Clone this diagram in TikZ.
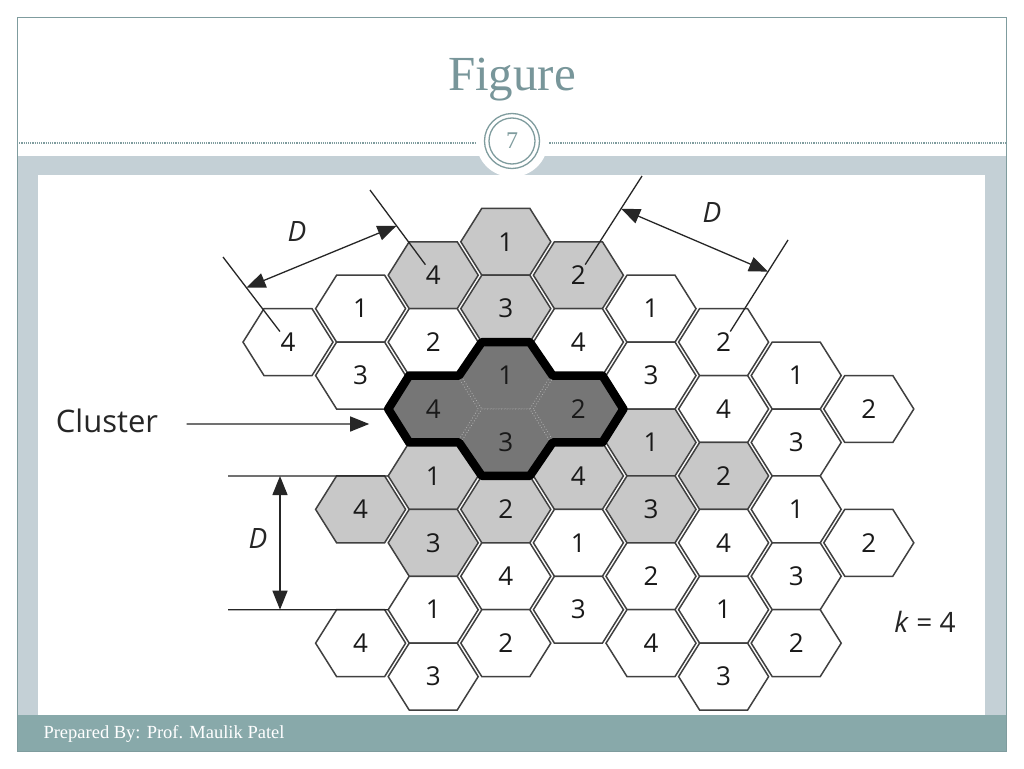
\documentclass[tikz,border=0pt]{standalone}
\usepackage{fontspec}
\setmainfont{Liberation Serif}
\setsansfont{Open Sans}
\usetikzlibrary{arrows.meta,calc}
\definecolor{slideteal}{HTML}{7F9C9E}
\definecolor{slideband}{HTML}{C4D0D6}
\definecolor{slidefoot}{HTML}{88A9AA}
\definecolor{titleteal}{HTML}{78969A}
\definecolor{cellgray}{HTML}{C8C8C8}
\definecolor{celldark}{HTML}{767676}
\tikzset{
  cellw/.style={draw=black!75, line width=1.5pt, fill=white},
  cellg/.style={draw=black!75, line width=1.5pt, fill=cellgray},
  celld/.style={draw=gray!60, line width=0.8pt, dotted, fill=celldark},
  num/.style={font=\sffamily\fontsize{26}{30}\selectfont, text=black!90, inner sep=1pt},
  dimline/.style={line width=1.3pt, black!85},
  dimlabel/.style={font=\sffamily\itshape\fontsize{28}{32}\selectfont, text=black!85},
}
\begin{document}
\begin{tikzpicture}[x=1pt, y=-1pt, >={Triangle[length=19pt,width=15pt]}]
\useasboundingbox (0,0) rectangle (1024,768);
\fill[white] (0,0) rectangle (1024,768);

% slide frame
\fill[slideband] (17,156) rectangle (1006,715);
\fill[white] (38,175) rectangle (985,715);
\fill[slidefoot] (17,715) rectangle (1006,751);
\draw[slideteal, line width=0.8pt] (17,17) rectangle (1006,751);
\draw[slideteal, densely dotted, line width=1.2pt] (17,143) -- (1006,143);
\fill[white] (512,141) circle (36);
\draw[slideteal, line width=1.3pt] (512,141) circle (27.5);
\draw[slideteal, line width=1.3pt] (512,141) circle (23);
\node[text=slideteal, font=\fontsize{24}{28}\selectfont] (pagenum) at (512,141) {7};
\node[text=titleteal, font=\fontsize{49}{56}\selectfont] (title) at (512,80) {Figure};
\node[anchor=west, text=white, font=\fontsize{18.5}{22}\selectfont] (footer) at (40,734) {Prepared By: Prof. Maulik Patel};

% cluster ground, so the gaps between its cells stay dark
\fill[celldark] (388.2,409) -- (409.2,375.55) -- (459,375.55) -- (481.8,342.1) -- (529.8,342.1) -- (552.6,375.55) -- (602.4,375.55) -- (623.4,409) -- (602.4,442.45) -- (552.6,442.45) -- (529.8,475.9) -- (481.8,475.9) -- (459,442.45) -- (409.2,442.45) -- cycle;

% cells: column / row / channel / shade
\foreach \i/\k/\lab/\sty in {0/1/4/cellw,
    1/1/1/cellw, 1/2/3/cellw, 1/4/4/cellg, 1/6/4/cellw,
    2/0/4/cellg, 2/1/2/cellw, 2/2/4/celld, 2/3/1/cellg, 2/4/3/cellg, 2/5/1/cellw, 2/6/3/cellw,
    3/0/1/cellg, 3/1/3/cellg, 3/2/1/celld, 3/3/3/celld, 3/4/2/cellg, 3/5/4/cellw, 3/6/2/cellw,
    4/0/2/cellg, 4/1/4/cellw, 4/2/2/celld, 4/3/4/cellg, 4/4/1/cellw, 4/5/3/cellw,
    5/1/1/cellw, 5/2/3/cellw, 5/3/1/cellg, 5/4/3/cellg, 5/5/2/cellw, 5/6/4/cellw,
    6/1/2/cellw, 6/2/4/cellw, 6/3/2/cellg, 6/4/4/cellw, 6/5/1/cellw, 6/6/3/cellw,
    7/2/1/cellw, 7/3/3/cellw, 7/4/1/cellw, 7/5/3/cellw, 7/6/2/cellw,
    8/2/2/cellw, 8/4/2/cellw}{
  \pgfmathsetmacro{\cx}{288+72.6*\i}
  \pgfmathsetmacro{\cy}{275.2+66.9*\k-33.45*mod(\i,2)}
  \draw[\sty] (\cx-45,\cy) -- ++(21,-33.45) -- ++(48,0) -- ++(21,33.45) -- ++(-21,33.45) -- ++(-48,0) -- cycle;
  \node[num] (h\i\k) at (\cx,\cy) {\lab};
}

% cluster outline
\draw[line width=8.5pt, line join=round] (388.2,409) -- (409.2,375.55) -- (459,375.55) -- (481.8,342.1) -- (529.8,342.1) -- (552.6,375.55) -- (602.4,375.55) -- (623.4,409) -- (602.4,442.45) -- (552.6,442.45) -- (529.8,475.9) -- (481.8,475.9) -- (459,442.45) -- (409.2,442.45) -- cycle;

% reuse distance, upper left
\coordinate (lA) at (223,257);
\coordinate (lB) at (370,190);
\draw[dimline] (lA) -- (h01);
\draw[dimline] (lB) -- (h20);
\draw[dimline, <->] ($(lA)!0.36!(h01)$) -- ($(lB)!0.42!(h20)$);
\node[dimlabel] (dA) at (297,232) {D};

% upper right
\coordinate (lC) at (642,176);
\coordinate (lD) at (788,240);
\draw[dimline] (lC) -- (h40);
\draw[dimline] (lD) -- (h61);
\draw[dimline, <->] ($(lC)!0.33!(h40)$) -- ($(lD)!0.31!(h61)$);
\node[dimlabel] (dB) at (712,213) {D};

% left
\coordinate (lE) at (228,476);
\coordinate (lF) at (228,609.7);
\draw[dimline] (lE) -- ($(h23)+(-45,0)$);
\draw[dimline] (lF) -- ($(h25)+(-45,0)$);
\draw[dimline, <->] ($(lE)+(52,0)$) -- ($(lF)+(52,0)$);
\node[dimlabel] (dC) at (258,538) {D};

\node[font=\sffamily\fontsize{31}{36}\selectfont, text=black!85] (clu) at (107,421) {Cluster};
\draw[dimline, ->] ($(clu.east)+(25,3)$) -- ($(h22)+(-64,15)$);

\node[font=\sffamily\fontsize{28}{32}\selectfont, text=black!85] (kval) at (925,622) {\textit{k} = 4};
\end{tikzpicture}
\end{document}
